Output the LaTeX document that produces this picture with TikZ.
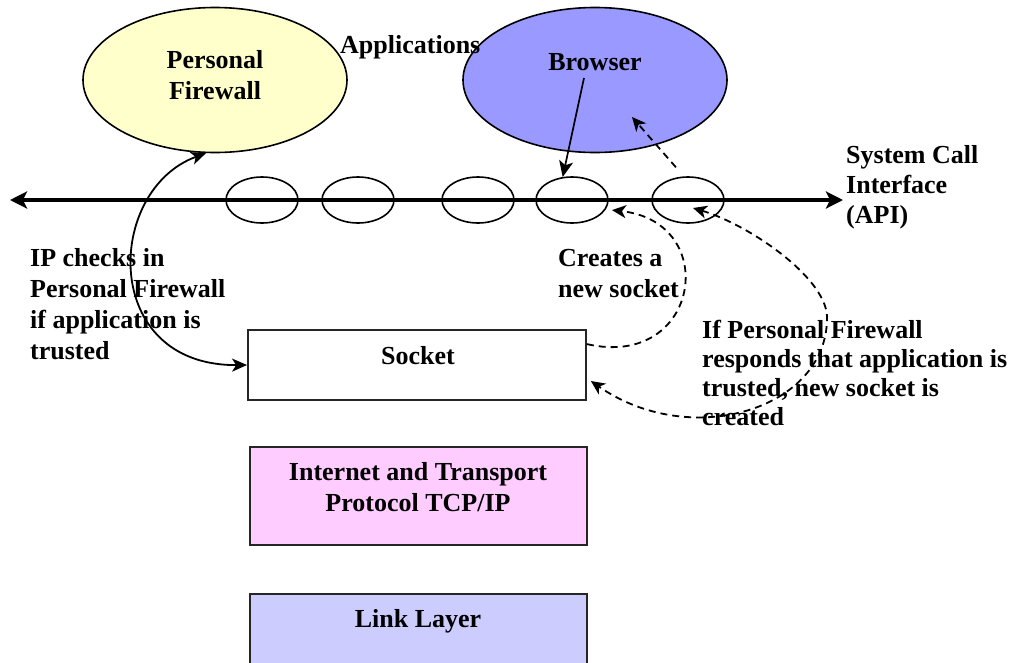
\documentclass[tikz,border=0pt]{standalone}
\usepackage{fontspec}
\setmainfont{Liberation Serif}
\usetikzlibrary{shapes.geometric,arrows.meta,calc}

\definecolor{fwyellow}{HTML}{FFFFCC}
\definecolor{brblue}{HTML}{9999FF}
\definecolor{tcppink}{HTML}{FFCCFF}
\definecolor{linkblue}{HTML}{CCCCFF}

\begin{document}
\begin{tikzpicture}[x=1pt,y=-1pt,
  txt/.style={font=\bfseries\fontsize{26}{31}\selectfont, inner sep=0pt},
  appl/.style={ellipse, draw, line width=1.6pt, inner sep=0pt,
               minimum width=264pt, minimum height=145pt},
  sock/.style={ellipse, draw, line width=1.6pt, inner sep=0pt,
               minimum width=72pt, minimum height=46pt},
  layer/.style={rectangle, draw=black!85, line width=1.8pt, inner sep=0pt},
  tipS/.style={arrows={-Stealth[length=16pt,width=14pt,inset=4pt]}},
  solidarr/.style={line width=1.7pt, tipS},
  dasharr/.style={line width=1.8pt, dash pattern=on 7pt off 5pt,
                  arrows={-Stealth[length=14pt,width=13pt,inset=4pt]}},
  biarr/.style={line width=1.8pt, arrows={Stealth[length=15pt,width=13pt,inset=4pt]-Stealth[length=15pt,width=13pt,inset=4pt]}},
  bidash/.style={line width=1.8pt, dash pattern=on 7pt off 5pt,
                 arrows={Stealth[length=14pt,width=13pt,inset=4pt]-Stealth[length=14pt,width=13pt,inset=4pt]}}
]
\clip (0,0) rectangle (1018,662);
\fill[white] (0,0) rectangle (1018,662);

% application ellipses
\node[appl, fill=fwyellow] (pf) at (215,80) {};
\node[txt, align=center] (pftext) at (215,75) {Personal\\Firewall};
\node[appl, fill=brblue] (browser) at (595,80) {};
\node[txt] (brtext) at (595,62) {Browser};
\node[txt, anchor=north west] (apps) at (340,35) {Applications};

% system call interface with its socket handles
\coordinate (apiL) at (10,200);
\coordinate (apiR) at (843,200);
\draw[line width=4.5pt, arrows={Stealth[length=17pt,width=17pt,inset=4pt]-Stealth[length=17pt,width=17pt,inset=4pt]}] (apiL) -- (apiR);
\node[sock] (s1) at (262,200) {};
\node[sock] (s2) at (358,200) {};
\node[sock] (s3) at (478,200) {};
\node[sock] (s4) at (572,200) {};
\node[sock] (s5) at (688,200) {};
\node[txt, anchor=north west, align=left, font=\bfseries\fontsize{26}{30}\selectfont]
  (api) at (846,145) {System Call\\Interface\\(API)};

% protocol layers
\node[layer, fill=white, minimum width=338pt, minimum height=70pt] (socket) at (417,365) {};
\node[txt] (socktext) at (418,356) {Socket};
\node[layer, fill=tcppink, minimum width=337pt, minimum height=98pt] (tcp) at (418.5,496) {};
\node[txt, align=center] (tcptext) at (418,487) {Internet and Transport\\Protocol TCP/IP};
\node[layer, fill=linkblue, minimum width=337pt, minimum height=106pt] (link) at (418.5,647) {};
\node[txt] (linktext) at (418,621) {Link Layer};

% annotations
\node[txt, anchor=north west, align=left] (ipchk) at (30,248)
  {IP checks in\\Personal Firewall\\if application is\\trusted};
\node[txt, anchor=north west, align=left] (creates) at (558,249)
  {Creates a\\new socket};
\node[txt, anchor=north west, align=left, font=\bfseries\fontsize{26}{29}\selectfont]
  (resp) at (702,320)
  {If Personal Firewall\\responds that application is\\trusted, new socket is\\created};

% connectors
\draw[biarr] (pf.263) .. controls (105,190) and (100,366) .. (socket.west);
\coordinate (bsrc) at (584,78);
\draw[solidarr] (bsrc) -- (s4.112);
\coordinate (bin) at (632,117);
\draw[dasharr, shorten <=12pt] (s5.100) -- (bin);
\draw[dasharr] ($(socket.north east)+(0,15)$) .. controls (700,370) and (722,222) .. ($(s4.-15)+(6,1)$);
\draw[bidash] ($(s5.center)+(5,8)$) .. controls (750,225) and (830,280) .. (827,320)
  .. controls (825,410) and (690,450) .. ($(socket.east)+(4,16)$);
\end{tikzpicture}
\end{document}
